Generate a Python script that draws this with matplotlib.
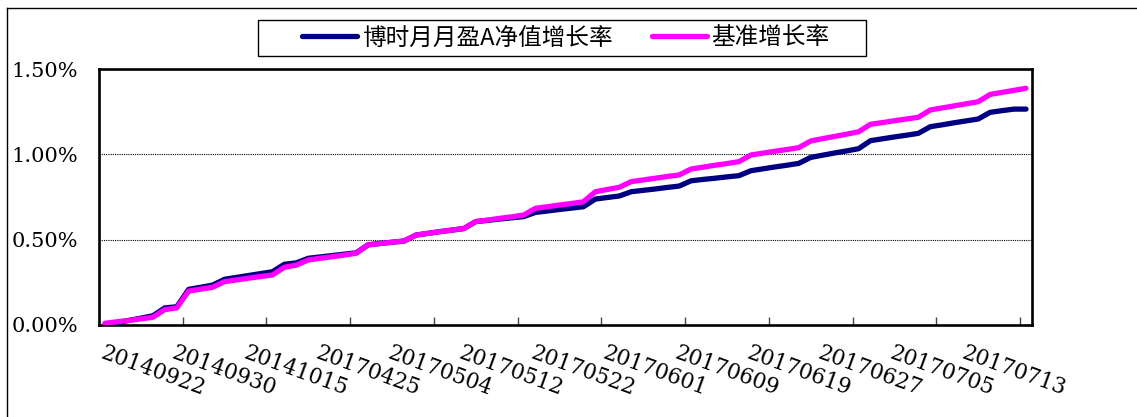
import matplotlib
matplotlib.use('Agg')
import matplotlib.pyplot as plt
from matplotlib.patches import Rectangle
from matplotlib.lines import Line2D

# tick labels shown on the x axis (every 6th trading day)
date_labels = ['20140922', '20140930', '20141015', '20170425', '20170504',
               '20170512', '20170522', '20170601', '20170609', '20170619',
               '20170627', '20170705', '20170713']

# fund net value growth (%)
fund = [0.000, 0.013, 0.027, 0.040, 0.054, 0.100, 0.107, 0.209, 0.221, 0.234,
        0.268, 0.279, 0.290, 0.301, 0.312, 0.356, 0.364, 0.391, 0.399, 0.407,
        0.415, 0.423, 0.470, 0.478, 0.485, 0.492, 0.527, 0.537, 0.547, 0.556,
        0.565, 0.606, 0.613, 0.621, 0.628, 0.635, 0.660, 0.668, 0.677, 0.685,
        0.693, 0.738, 0.747, 0.756, 0.781, 0.789, 0.797, 0.806, 0.814, 0.845,
        0.853, 0.860, 0.868, 0.875, 0.904, 0.915, 0.926, 0.936, 0.947, 0.982,
        0.995, 1.008, 1.020, 1.033, 1.080, 1.091, 1.102, 1.112, 1.123, 1.162,
        1.173, 1.185, 1.196, 1.207, 1.246, 1.256, 1.265, 1.265]

# benchmark growth (%)
bench = [0.010, 0.019, 0.027, 0.036, 0.045, 0.090, 0.100, 0.199, 0.210, 0.221,
         0.254, 0.264, 0.274, 0.284, 0.293, 0.338, 0.351, 0.381, 0.391, 0.400,
         0.410, 0.420, 0.469, 0.477, 0.485, 0.492, 0.527, 0.537, 0.547, 0.556,
         0.565, 0.606, 0.615, 0.625, 0.634, 0.644, 0.684, 0.693, 0.703, 0.712,
         0.722, 0.781, 0.794, 0.807, 0.840, 0.850, 0.860, 0.870, 0.879, 0.914,
         0.925, 0.936, 0.946, 0.957, 0.996, 1.007, 1.018, 1.028, 1.039, 1.078,
         1.092, 1.105, 1.118, 1.132, 1.176, 1.186, 1.197, 1.207, 1.217, 1.260,
         1.272, 1.284, 1.296, 1.308, 1.351, 1.363, 1.375, 1.387]

W, H = 1137, 417
fig = plt.figure(figsize=(W / 100, H / 100), dpi=100)
ax = fig.add_axes([99 / W, 1 - 325 / H, (1032 - 99) / W, (325 - 69) / H])

x = list(range(len(fund)))
l1, = ax.plot(x, fund, color='#000080', lw=3.8, solid_capstyle='round',
              solid_joinstyle='round', zorder=3)
l2, = ax.plot(x, bench, color='#FF00FF', lw=3.8, solid_capstyle='round',
              solid_joinstyle='round', zorder=4)

ax.set_xlim(-0.5, len(fund) - 0.5)
ax.set_ylim(0, 1.5)

serif = 'DejaVu Serif'
yt = [0, 0.5, 1.0, 1.5]
ax.set_yticks(yt, ['%.2f%%' % v for v in yt], fontsize=15, family=serif)
ax.tick_params(axis='y', length=0, pad=15)
ax.yaxis.grid(True, linestyle=(0, (1, 1)), color='black', lw=0.8)

ax.set_xticks(range(0, len(fund), 6), date_labels, fontsize=15.5, family=serif,
              rotation=-20, ha='left', va='top', rotation_mode='anchor')
ax.tick_params(axis='x', which='major', length=0, pad=12)
ax.set_xticks([6.5 + 7 * k for k in range(11)], minor=True)
ax.tick_params(axis='x', which='minor', direction='in', length=6, width=1,
               color='#444444')

for s in ax.spines.values():
    s.set_linewidth(1.9)
    s.set_color('black')

# legend box
fig.patches.append(Rectangle((258 / W, 1 - 56 / H), (866 - 258) / W, 36 / H,
                             transform=fig.transFigure, fill=False,
                             edgecolor='black', lw=1.0))
fig.legend([l1, l2], ['博时月月盈A净值增长率', '基准增长率'], ncol=2,
           loc='center', bbox_to_anchor=(566 / W, 1 - 38 / H), frameon=False,
           prop={'family': ['Noto Sans CJK SC', 'DejaVu Sans'], 'size': 17},
           handlelength=2.33, handletextpad=0.2, columnspacing=1.65)

# outer frame (left and top edges)
fig.add_artist(Line2D([7 / W, 7 / W], [0, 1 - 8 / H], color='black', lw=1.0,
                      transform=fig.transFigure))
fig.add_artist(Line2D([7 / W, 1], [1 - 8 / H, 1 - 8 / H], color='black', lw=1.0,
                      transform=fig.transFigure))

fig.savefig('out.png', dpi=100)
